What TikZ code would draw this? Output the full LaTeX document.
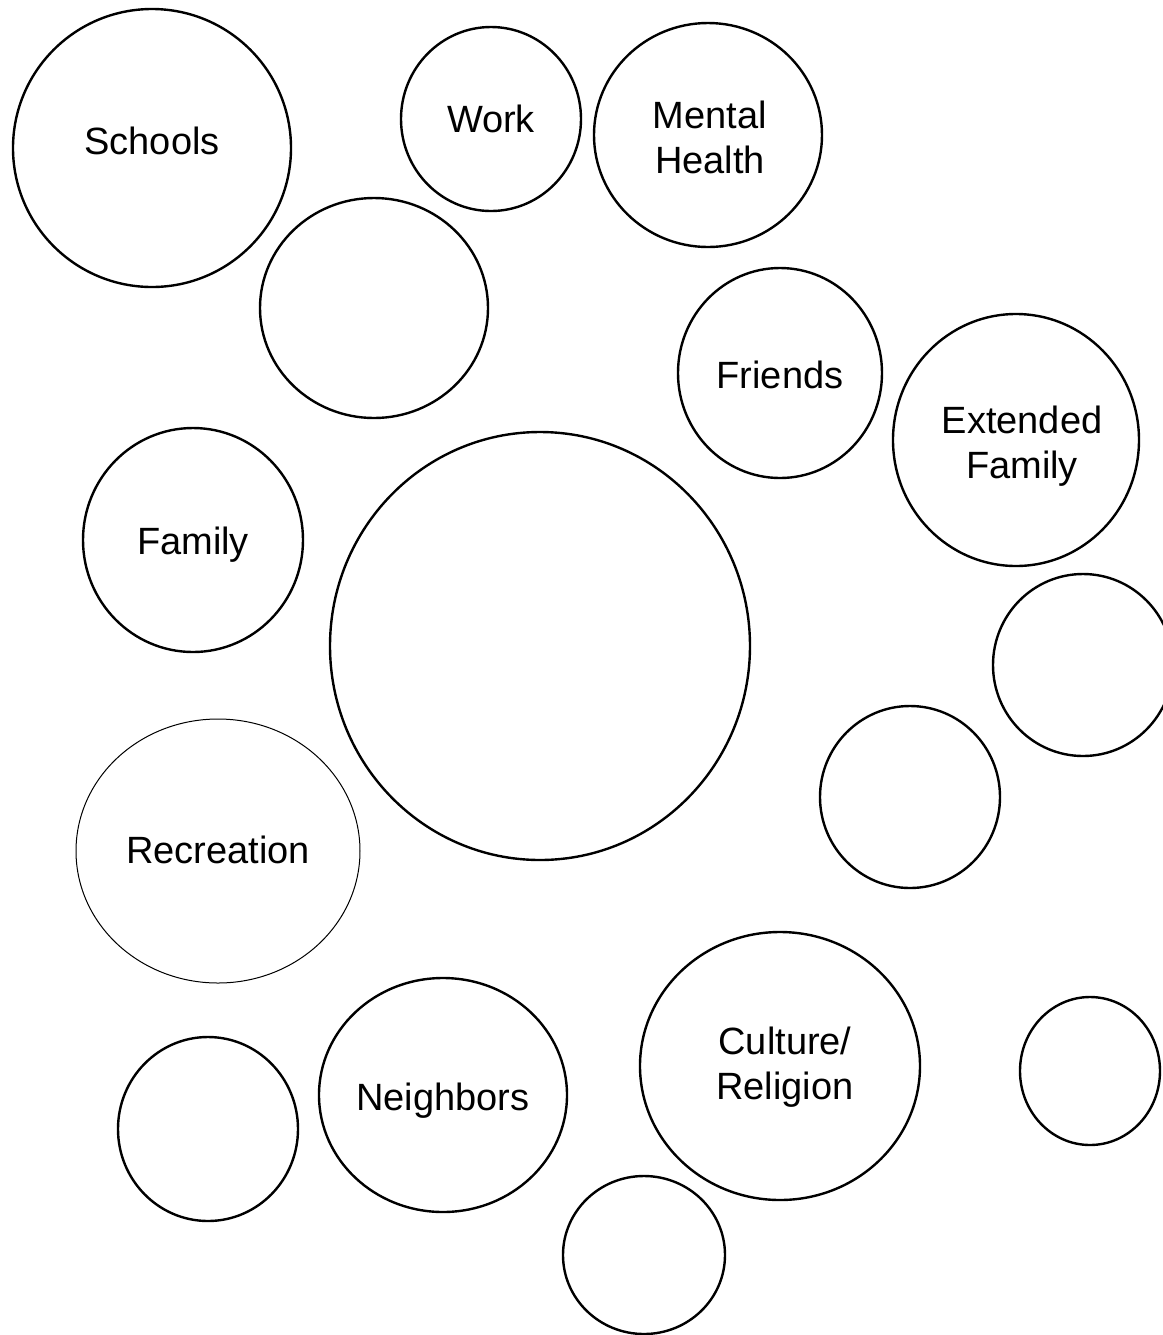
\documentclass[tikz,border=0pt]{standalone}
\usepackage{fontspec}
\setmainfont{Liberation Sans}
\usetikzlibrary{shapes.geometric}

\begin{document}
\begin{tikzpicture}
	[x=0.5pt, y=-0.5pt,
	ring/.style={draw, ellipse, line width=1.2pt, inner sep=0pt},
	thinring/.style={ring, line width=0.5pt},
	every label/.style={align=center, inner sep=0pt, font=\fontsize{19}{22.5}\selectfont}]
	\useasboundingbox (0,0) rectangle (1163,1335);
	\clip (0,0) rectangle (1163,1335);
	% labelled rings
	\node[ring, minimum width=139pt, minimum height=139pt,
		label={[yshift=3.5pt]center:Schools}] (schools) at (152,148) {};
	\node[ring, minimum width=90pt, minimum height=92pt,
		label={center:Work}] (work) at (491,119) {};
	\node[ring, minimum width=114pt, minimum height=112pt,
		label={[xshift=1pt, yshift=-1pt]center:Mental\\Health}] (mental) at (708,135) {};
	\node[ring, minimum width=102pt, minimum height=105pt,
		label={[yshift=-1pt]center:Friends}] (friends) at (780,373) {};
	\node[ring, minimum width=123pt, minimum height=126pt,
		label={[xshift=3pt, yshift=-3pt]center:Extended\\Family}] (extended) at (1016,440) {};
	\node[ring, minimum width=110pt, minimum height=112pt,
		label={[yshift=-2.5pt]center:Family}] (family) at (193,540) {};
	\node[thinring, minimum width=142pt, minimum height=132pt,
		label={[yshift=0.5pt]center:Recreation}] (recreation) at (218,851) {};
	\node[ring, minimum width=124pt, minimum height=117pt,
		label={[yshift=-3pt]center:Neighbors}] (neighbors) at (443,1095) {};
	\node[ring, minimum width=140pt, minimum height=134pt,
		label={[xshift=2.5pt, yshift=-0.5pt]center:Culture/\\Religion}] (culture) at (780,1066) {};
	% empty rings
	\node[ring, minimum width=114pt, minimum height=110pt] (blanka) at (374,308) {};
	\node[ring, minimum width=210pt, minimum height=214pt] (centre) at (540,646) {};
	\node[ring, minimum width=90pt, minimum height=91pt] (blankb) at (1083,665) {};
	\node[ring, minimum width=90pt, minimum height=91pt] (blankc) at (910,797) {};
	\node[ring, minimum width=70pt, minimum height=74pt] (blankd) at (1090,1071) {};
	\node[ring, minimum width=90pt, minimum height=92pt] (blanke) at (208,1129) {};
	\node[ring, minimum width=81pt, minimum height=79pt] (blankf) at (644,1255) {};
\end{tikzpicture}
\end{document}
